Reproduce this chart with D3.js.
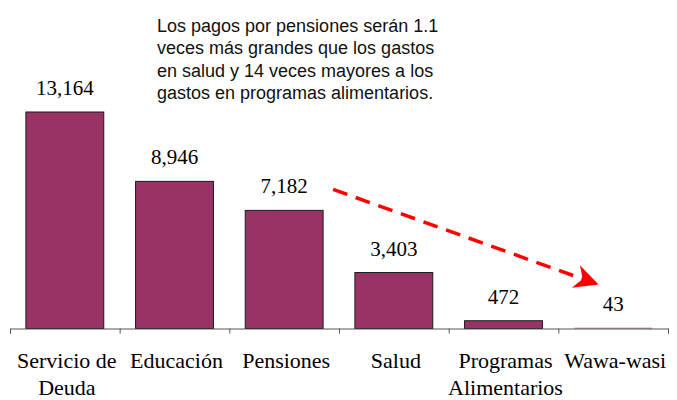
<!DOCTYPE html>
<html>
<head>
<meta charset="utf-8">
<script src="https://cdn.jsdelivr.net/npm/d3@7"></script>
<style>
  body { margin: 0; background: #fff; }
  .val, .cat { font-family: "Liberation Serif", "Times New Roman", serif; fill: #000; }
  .note { font-family: "Liberation Sans", Arial, sans-serif; fill: #111; }
  .axis path, .axis line { stroke: #555; }
</style>
</head>
<body>
<div id="chart"></div>
<script>
  // data
  var categories = ["Servicio de|Deuda", "Educación", "Pensiones", "Salud", "Programas|Alimentarios", "Wawa-wasi"];
  var values = [13164, 8946, 7182, 3403, 472, 43];
  var noteLines = [
    "Los pagos por pensiones serán 1.1",
    "veces más grandes que los gastos",
    "en salud y 14 veces mayores a los",
    "gastos en programas alimentarios."
  ];

  var width = 677, height = 400;
  var baseY = 328.5, left = 10, right = 668;

  var svg = d3.select("#chart").append("svg")
    .attr("width", width)
    .attr("height", height);

  // scales
  var x = d3.scaleBand()
    .domain(d3.range(categories.length))
    .range([left, right])
    .paddingInner(0.29)
    .paddingOuter(0.145);

  var y = d3.scaleLinear()
    .domain([0, 13164])
    .range([baseY, 112]);

  // tick marks on band boundaries
  var edge = d3.scaleLinear().domain([0, categories.length]).range([left, right]);

  // bars (the tiny ones get no outline, as in the original)
  svg.selectAll("rect.bar")
    .data(values)
    .enter().append("rect")
      .attr("class", "bar")
      .attr("x", function(d, i) { return x(i); })
      .attr("y", function(d) { return y(d); })
      .attr("width", x.bandwidth())
      .attr("height", function(d) { return baseY - y(d); })
      .attr("fill", "#993366")
      .attr("stroke", function(d) { return baseY - y(d) < 2 ? "none" : "#1a1a1a"; })
      .attr("stroke-width", 1);

  // x axis
  svg.append("g")
    .attr("class", "axis")
    .attr("transform", "translate(0," + baseY + ")")
    .call(d3.axisBottom(edge).tickValues(d3.range(categories.length + 1)).tickFormat("").tickSize(5).tickSizeOuter(5));

  // value labels
  svg.selectAll("text.val")
    .data(values)
    .enter().append("text")
      .attr("class", "val")
      .attr("x", function(d, i) { return x(i) + x.bandwidth() / 2; })
      .attr("y", function(d) { return y(d) - 17; })
      .attr("text-anchor", "middle")
      .style("font-size", "21px")
      .text(function(d) { return d3.format(",")(d); });

  // category labels
  var cats = svg.selectAll("text.cat")
    .data(categories)
    .enter().append("text")
      .attr("class", "cat")
      .attr("text-anchor", "middle")
      .style("font-size", "22px")
      .attr("transform", function(d, i) { return "translate(" + (x(i) + x.bandwidth() / 2 + 2) + ",368)"; });

  cats.selectAll("tspan")
    .data(function(d) { return d.split("|"); })
    .enter().append("tspan")
      .attr("x", 0)
      .attr("dy", function(d, i) { return i === 0 ? 0 : 27; })
      .text(function(d) { return d; });

  // annotation
  svg.append("text")
    .attr("class", "note")
    .style("font-size", "18px")
    .selectAll("tspan")
    .data(noteLines)
    .enter().append("tspan")
      .attr("x", 157)
      .attr("y", function(d, i) { return 32 + i * 22.3; })
      .text(function(d) { return d; });

  // dashed arrow from pensiones toward wawa-wasi
  svg.append("defs").append("marker")
    .attr("id", "head")
    .attr("viewBox", "0 0 10 10")
    .attr("refX", 9)
    .attr("refY", 5)
    .attr("markerUnits", "userSpaceOnUse")
    .attr("markerWidth", 28)
    .attr("markerHeight", 24)
    .attr("orient", "auto")
    .append("path")
      .attr("d", "M0,0 L10,5 L0,10 L3,5 Z")
      .attr("fill", "#ff0000");

  var x0 = x(2) + x.bandwidth() + 10, x1 = x(5) + 22;
  svg.append("line")
    .attr("x1", x0)
    .attr("y1", y(values[2]) - 21)
    .attr("x2", x1)
    .attr("y2", y(values[5]) - 44)
    .attr("stroke", "#ff0000")
    .attr("stroke-width", 3.5)
    .attr("stroke-dasharray", "15,9")
    .attr("marker-end", "url(#head)");
</script>
</body>
</html>
